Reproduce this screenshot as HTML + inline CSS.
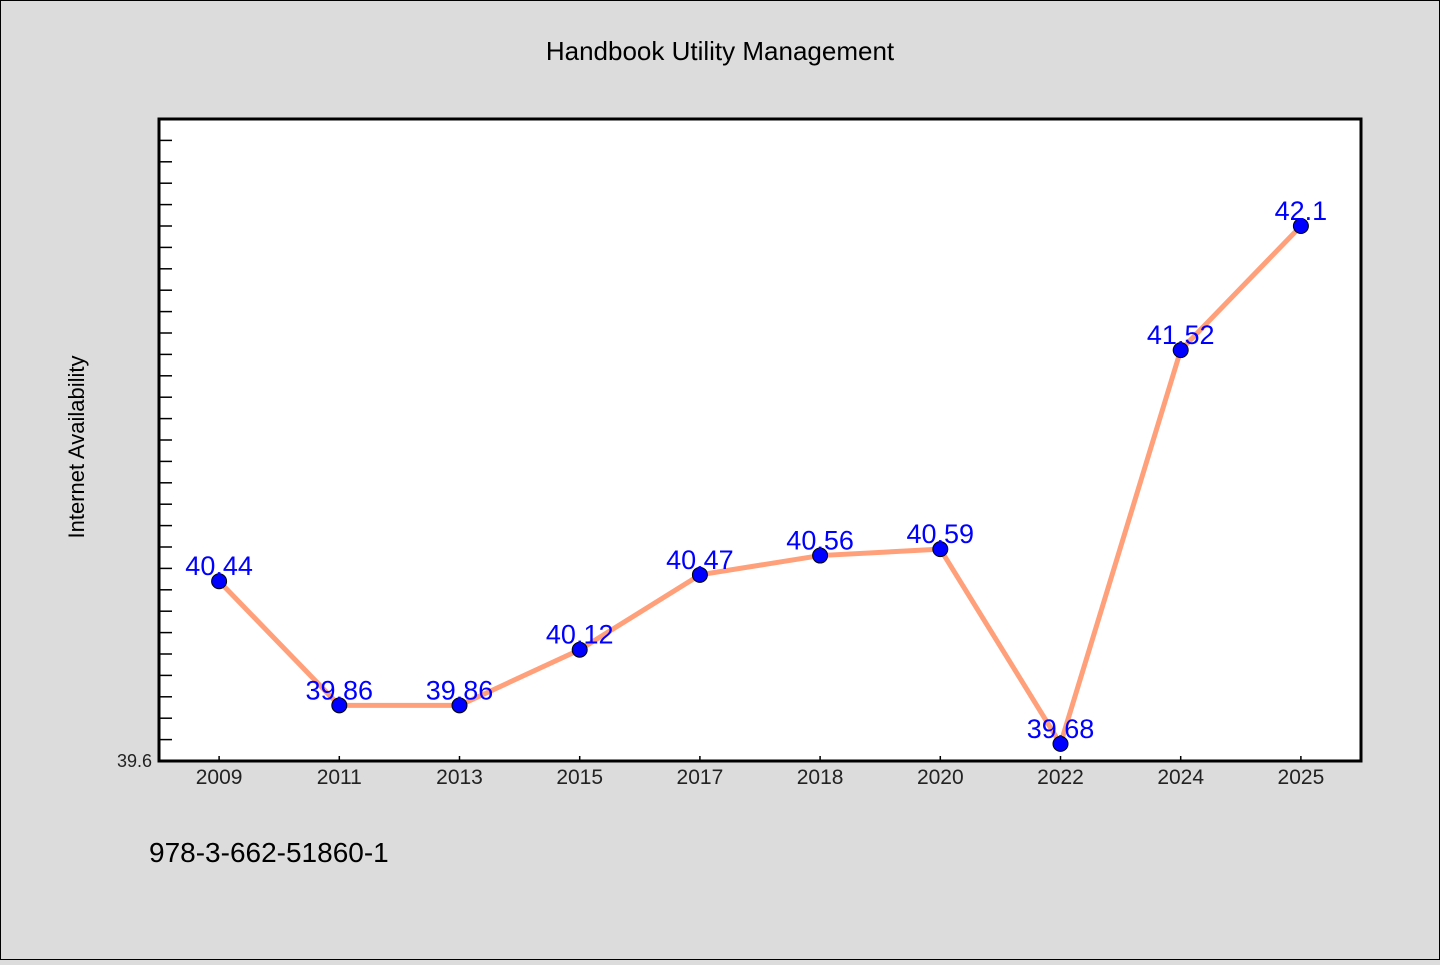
<!DOCTYPE html>
<html><head><meta charset="utf-8"><style>
html,body{margin:0;padding:0;}
body{width:1440px;height:960px;background:#dcdcdc;font-family:"WenQuanYi Zen Hei","Liberation Sans",sans-serif;overflow:hidden;}
svg text{font-family:"WenQuanYi Zen Hei","Liberation Sans",sans-serif;}
</style></head><body>
<svg id="chart" width="1440" height="960" xmlns="http://www.w3.org/2000/svg">
<rect x="0.5" y="0.5" width="1439" height="959" fill="#dcdcdc" stroke="#000" stroke-width="1"/>
<text x="720" y="60" text-anchor="middle" font-size="26" fill="#000">Handbook Utility Management</text>
<rect x="159" y="119" width="1202" height="642" fill="#fff" stroke="#000" stroke-width="3"/>
<text transform="translate(84,447) rotate(-90)" text-anchor="middle" font-size="22" fill="#000">Internet Availability</text>
<text x="149" y="862" font-size="28" fill="#000">978-3-662-51860-1</text>
<g id="yticks"></g><g id="xticks"></g><g id="series"></g>
</svg>
<script>
const categories=["2009","2011","2013","2015","2017","2018","2020","2022","2024","2025"];
const values=[40.44,39.86,39.86,40.12,40.47,40.56,40.59,39.68,41.52,42.1];
const yTickLabels=["39.6"];
const yMin=39.6,yMax=42.6,yMinorStep=0.1;
const L=159,R=1361,T=119,B=761;
const NS="http://www.w3.org/2000/svg";
function y(v){return B-(v-yMin)/(yMax-yMin)*(B-T);}
function x(i){const w=(R-L)/categories.length;return L+w*(i+0.5);}
function mk(tag,attrs,parent){const e=document.createElementNS(NS,tag);for(const k in attrs)e.setAttribute(k,attrs[k]);parent.appendChild(e);return e;}
const yt=document.getElementById('yticks');
for(let v=yMin;v<=yMax+1e-9;v+=yMinorStep){
  const l=mk('line',{x1:L,x2:L+13,y1:y(v),y2:y(v),stroke:'#000','stroke-width':1.5},yt);
  
  
}
yTickLabels.forEach(s=>{
  const t=mk('text',{x:152,y:y(parseFloat(s))+6,'text-anchor':'end','font-size':18,fill:'#222'},yt);
  t.textContent=s;
  
  
});
const xt=document.getElementById('xticks');
categories.forEach((c,i)=>{
  const l=mk('line',{x1:x(i),x2:x(i),y1:B,y2:B-5,stroke:'#000','stroke-width':1.5},xt);
  
  
  const t=mk('text',{x:x(i),y:B+23,'text-anchor':'middle','font-size':21,fill:'#222'},xt);
  t.textContent=c;
  
  
});
const sg=document.getElementById('series');
const pl=mk('polyline',{points:values.map((v,i)=>x(i)+','+y(v)).join(' '),fill:'none',stroke:'#ffa07a','stroke-width':5,'stroke-linejoin':'round'},sg);


values.forEach((v,i)=>{
  const c=mk('circle',{cx:x(i),cy:y(v),r:7.5,fill:'#0000ff',stroke:'#000','stroke-width':1},sg);
  
  
});
values.forEach((v,i)=>{
  const t=mk('text',{x:x(i),y:y(v)-6,'text-anchor':'middle','font-size':27,fill:'#0000ff'},sg);
  t.textContent=String(v);
  
  
});
</script>
</body></html>
